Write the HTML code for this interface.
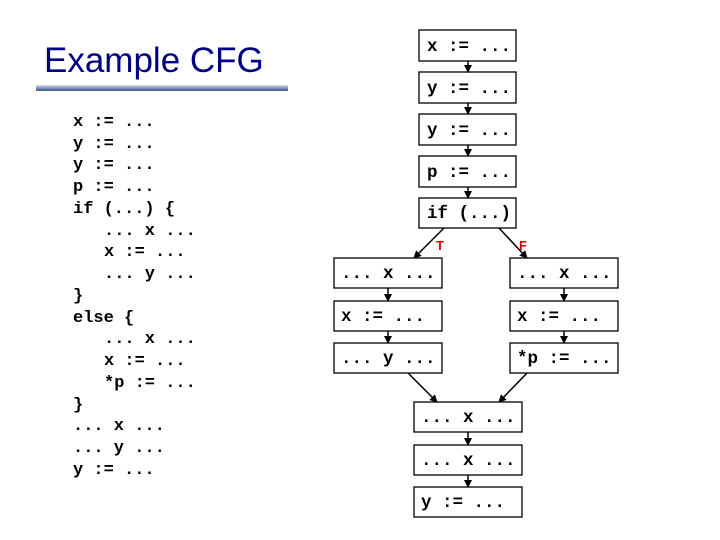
<!DOCTYPE html>
<html><head><style>
html,body{margin:0;padding:0;background:#fff;}
svg{display:block}
.c{font-family:"Liberation Mono","Courier New",Courier,monospace;font-weight:bold;font-size:17px;fill:#000;white-space:pre}
.b{font-size:17.5px}
</style></head><body>
<svg width="720" height="540" xmlns="http://www.w3.org/2000/svg">
<defs>
<linearGradient id="g" x1="0" y1="0" x2="0" y2="1">
<stop offset="0" stop-color="#dfe6f0"/><stop offset="0.5" stop-color="#7f93b5"/><stop offset="1" stop-color="#3d5587"/>
</linearGradient>
<marker id="a" markerWidth="8" markerHeight="8" refX="7" refY="4" orient="auto" markerUnits="userSpaceOnUse">
<path d="M0,0 L8,4 L0,8 z" fill="#000"/></marker>
</defs>
<text x="44" y="72" font-family="Liberation Sans,sans-serif" font-size="35" fill="#000080">Example CFG</text>
<rect x="36" y="85" width="252" height="6" fill="url(#g)"/>
<g class="c">
<text x="73" y="126">x := ...</text>
<text x="73" y="148">y := ...</text>
<text x="73" y="169">y := ...</text>
<text x="73" y="191">p := ...</text>
<text x="73" y="213">if (...) {</text>
<text x="104" y="235">... x ...</text>
<text x="104" y="256">x := ...</text>
<text x="104" y="278">... y ...</text>
<text x="73" y="300">}</text>
<text x="73" y="322">else {</text>
<text x="104" y="343">... x ...</text>
<text x="104" y="365">x := ...</text>
<text x="104" y="387">*p := ...</text>
<text x="73" y="409">}</text>
<text x="73" y="430">... x ...</text>
<text x="73" y="452">... y ...</text>
<text x="73" y="474">y := ...</text>
</g>
<g fill="#fff" stroke="#000" stroke-width="1.3">
<rect x="419" y="30" width="97" height="31"/>
<rect x="419" y="72" width="97" height="31"/>
<rect x="419" y="114" width="97" height="31"/>
<rect x="419" y="156" width="97" height="31"/>
<rect x="419" y="198" width="97" height="30"/>
<rect x="334" y="258" width="108" height="30"/>
<rect x="510" y="258" width="108" height="30"/>
<rect x="334" y="301" width="108" height="30"/>
<rect x="510" y="301" width="108" height="30"/>
<rect x="334" y="343" width="108" height="30"/>
<rect x="510" y="343" width="108" height="30"/>
<rect x="414" y="402" width="108" height="30"/>
<rect x="414" y="445" width="108" height="30"/>
<rect x="414" y="487" width="108" height="30"/>
</g>
<g class="c b">
<text x="427" y="51">x := ...</text>
<text x="427" y="93">y := ...</text>
<text x="427" y="135">y := ...</text>
<text x="427" y="177">p := ...</text>
<text x="427" y="218">if (...)</text>
<text x="341" y="278">... x ...</text>
<text x="517" y="278">... x ...</text>
<text x="341" y="321">x := ...</text>
<text x="517" y="321">x := ...</text>
<text x="341" y="363">... y ...</text>
<text x="517" y="363">*p := ...</text>
<text x="421" y="422">... x ...</text>
<text x="421" y="465">... x ...</text>
<text x="421" y="507">y := ...</text>
</g>
<g stroke="#000" stroke-width="1.5" marker-end="url(#a)">
<line x1="468" y1="61" x2="468" y2="72"/>
<line x1="468" y1="103" x2="468" y2="114"/>
<line x1="468" y1="145" x2="468" y2="156"/>
<line x1="468" y1="187" x2="468" y2="198"/>
<line x1="444" y1="228" x2="414" y2="258"/>
<line x1="499" y1="228" x2="527" y2="258"/>
<line x1="388" y1="288" x2="388" y2="301"/>
<line x1="564" y1="288" x2="564" y2="301"/>
<line x1="388" y1="331" x2="388" y2="343"/>
<line x1="564" y1="331" x2="564" y2="343"/>
<line x1="408" y1="373" x2="437" y2="402"/>
<line x1="527" y1="373" x2="499" y2="402"/>
<line x1="468" y1="432" x2="468" y2="445"/>
<line x1="468" y1="475" x2="468" y2="487"/>
</g>
<text x="436" y="250" font-family="Liberation Sans,sans-serif" font-size="13" font-weight="bold" fill="#e00000">T</text>
<text x="519" y="250" font-family="Liberation Sans,sans-serif" font-size="13" font-weight="bold" fill="#e00000">F</text>
</svg>
</body></html>
